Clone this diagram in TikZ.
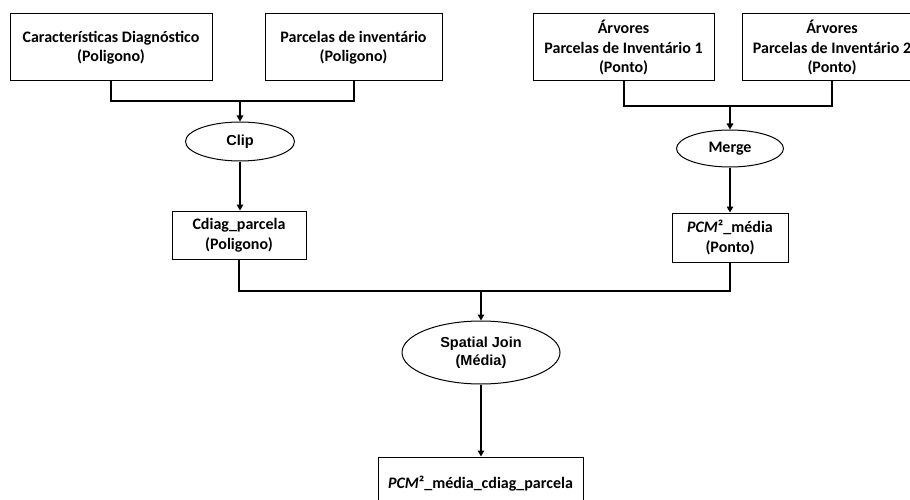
\documentclass[tikz,border=0pt]{standalone}
\usepackage{fontspec}
\setmainfont{Carlito}
\newfontfamily\arialb{Liberation Sans}
\usetikzlibrary{shapes.geometric,arrows.meta}
\tikzset{
  box/.style={draw, line width=1pt, rectangle, align=center, inner sep=0pt, font=\fontsize{16}{19.5}\selectfont\bfseries},
  oval/.style={draw, line width=1pt, ellipse, align=center, inner sep=0pt, font=\fontsize{16}{19}\selectfont\bfseries},
  link/.style={line width=2pt},
  arr/.style={line width=2pt, -{Triangle[length=6pt,width=6.5pt]}},
}
\begin{document}
\begin{tikzpicture}[x=1pt,y=-1pt]
\clip (0,0) rectangle (910,500);
\fill[white] (0,0) rectangle (910,500);
\node[box, minimum width=202pt, minimum height=67pt] (b1) at (111,47.5) {Características Diagnóstico\\(Poligono)};
\node[box, minimum width=177pt, minimum height=67pt] (b2) at (353.5,47.5) {Parcelas de inventário\\(Poligono)};
\node[box, minimum width=181pt, minimum height=67pt] (b3) at (623.5,47.5) {Árvores\\Parcelas de Inventário 1\\(Ponto)};
\node[box, minimum width=180pt, minimum height=67pt] (b4) at (832,47.5) {Árvores\\Parcelas de Inventário 2\\(Ponto)};
\node[oval, minimum width=109pt, minimum height=39pt, font=\fontsize{14.5}{17}\selectfont\arialb\bfseries] (clip) at (240,141.5) {Clip};
\node[oval, minimum width=107pt, minimum height=37pt] (merge) at (730,148.5) {Merge};
\node[box, minimum width=134pt, minimum height=48pt] (cdiag) at (239,235) {Cdiag\_parcela\\(Poligono)};
\node[box, minimum width=116pt, minimum height=49pt] (pcm) at (730,237.5) {\textit{PCM}²\_média\\(Ponto)};
\node[oval, minimum width=158pt, minimum height=63pt, font=\fontsize{14.5}{18}\selectfont\arialb\bfseries] (sj) at (481,352.5) {Spatial Join\\(Média)};
\node[box, minimum width=205pt, minimum height=54pt] (fin) at (480.5,484) {\textit{PCM}²\_média\_cdiag\_parcela};
\coordinate (j1) at (240,101);
\coordinate (j2) at (730,106);
\coordinate (j3) at (481,291);
\draw[link] (b1.south) |- (j1) -| (b2.south);
\draw[link] (b3.south) |- (j2) -| (b4.south);
\draw[arr] (j1) -- (clip.north);
\draw[arr] (j2) -- (merge.north);
\draw[arr] (clip.south) -- (clip.south |- cdiag.north);
\draw[arr] (merge.south) -- (merge.south |- pcm.north);
\draw[link] (cdiag.south) |- (j3) -| (pcm.south);
\draw[arr] (j3) -- (sj.north);
\draw[arr] (sj.south) -- (sj.south |- fin.north);
\end{tikzpicture}
\end{document}
